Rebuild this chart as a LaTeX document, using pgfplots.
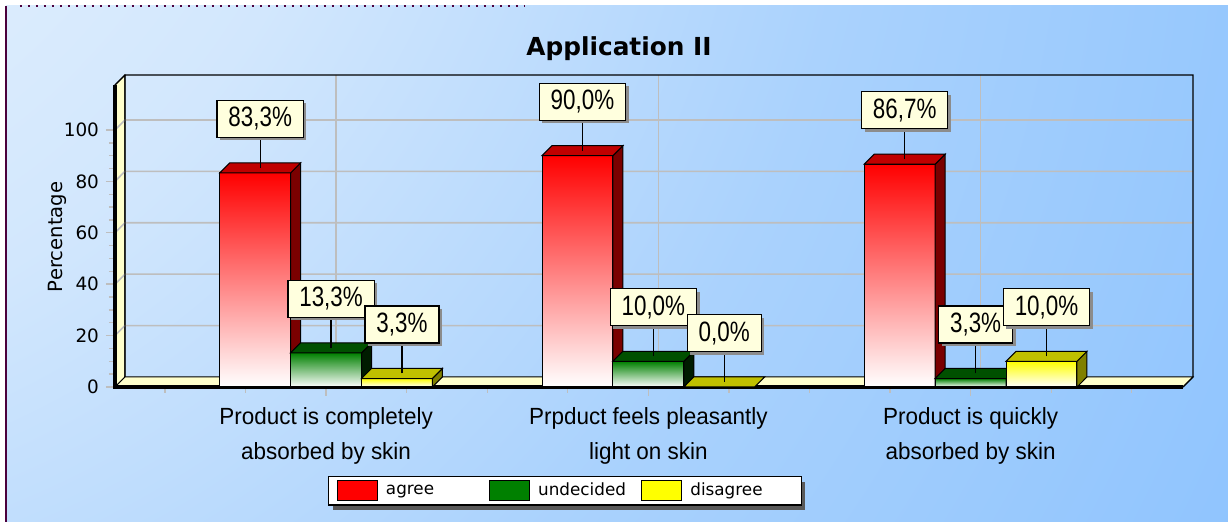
\documentclass[border=0pt]{standalone}
\usepackage{fontspec}
\usepackage{pgfplots}
\pgfplotsset{compat=1.18}
\usepackage{pgfplotstable}
\usetikzlibrary{shadows}
\setmainfont{DejaVu Sans}
\newfontfamily\dejavu{DejaVu Sans}
\newfontfamily\lblfont[FakeStretch=0.80]{Liberation Sans}
\newfontfamily\catfont[FakeStretch=0.96]{Liberation Sans}

\makeatletter
\tikzset{no preactions/.code={\let\tikz@preactions\pgfutil@empty}}
\makeatother

\definecolor{agreeF}{RGB}{255,0,0}
\definecolor{agreeT}{RGB}{192,0,0}
\definecolor{agreeS}{RGB}{122,0,0}
\definecolor{undF}{RGB}{0,128,0}
\definecolor{undT}{RGB}{0,80,0}
\definecolor{undS}{RGB}{0,28,0}
\definecolor{disF}{RGB}{255,255,0}
\definecolor{disT}{RGB}{192,192,0}
\definecolor{disS}{RGB}{128,128,0}
\definecolor{wallY}{RGB}{255,255,204}
\definecolor{labelC}{RGB}{255,255,222}
\definecolor{gridC}{RGB}{190,190,190}
\definecolor{framePurple}{RGB}{75,0,60}
\definecolor{bgA}{RGB}{210,231,253}
\definecolor{bgB}{RGB}{170,210,253}
\definecolor{bgC}{RGB}{132,190,254}
\definecolor{bgD}{RGB}{112,181,255}

\pgfdeclareradialshading{bgshade}{\pgfpoint{-50bp}{50bp}}{%
  color(0bp)=(white); color(30bp)=(bgA); color(45bp)=(bgB);
  color(68bp)=(bgC); color(90bp)=(bgD); color(150bp)=(bgD)}

\newcommand\tdbar[5]{%
  \pgfmathsetmacro\xa{#1}%
  \pgfmathsetmacro\xb{#1+0.22}%
  \pgfmathsetmacro\xc{#1+0.251}%
  \pgfmathsetmacro\xd{#1+0.031}%
  \pgfmathsetmacro\vb{#2+3.9}%
  \edef\temp{%
    \noexpand\addplot[forget plot, draw=black, line width=0.5pt, top color=#3, bottom color=white] coordinates {(\xa,0) (\xb,0) (\xb,#2) (\xa,#2)} -- cycle;
    \noexpand\addplot[forget plot, draw=black, line width=0.5pt, fill=#5] coordinates {(\xb,0) (\xc,3.9) (\xc,\vb) (\xb,#2)} -- cycle;
    \noexpand\addplot[forget plot, draw=black, line width=0.5pt, fill=#4] coordinates {(\xa,#2) (\xb,#2) (\xc,\vb) (\xd,\vb)} -- cycle;
  }\temp}

\pgfplotstableread{
x y label
-0.2045 104.3 83,3
0.0155 34.3 13,3
0.2355 24.3 3,3
0.7955 111.0 90,0
1.0155 31.0 10,0
1.2355 21.0 0,0
1.7955 107.7 86,7
2.0155 24.3 3,3
2.2355 31.0 10,0
}\labeltab

\begin{document}
\begin{tikzpicture}
\useasboundingbox (-57.5pt,-67.5pt) rectangle (556.5pt,193.5pt);
\fill[white] (-57.5pt,-67.5pt) rectangle (556.5pt,193.5pt);
\begin{scope}
\clip (-54.5pt,-67.5pt) rectangle (556.5pt,190.5pt);
\shade[shading=bgshade] (-57.5pt,-420.5pt) rectangle (556.5pt,193.5pt);
\end{scope}
\draw[framePurple, line width=0.8pt] (-54.5pt,-67.5pt) -- (-54.5pt,190.5pt);
\draw[framePurple, line width=0.8pt, dash pattern=on 0.8pt off 3.2pt] (-47.5pt,190.5pt) -- (205pt,190.5pt);

\begin{axis}[
  scale only axis, width=539pt, height=156pt,
  at={(0,0)}, anchor=south west,
  xmin=-0.655, xmax=2.69, ymin=0, ymax=121.4,
  clip=false,
  axis x line*=bottom, axis y line*=left,
  axis line style={draw=none},
  tick align=outside,
  major tick length=4.5pt, minor tick length=3pt,
  tick style={draw=gridC, line width=0.7pt},
  ytick={0,20,...,100}, minor y tick num=3,
  xtick={0,1,2},
  minor xtick={-0.5,-0.25,0.25,0.5,0.75,1.25,1.5,1.75,2.25,2.5},
  xticklabels={{Product is completely\\absorbed by skin},{Prpduct feels pleasantly\\light on skin},{Product is quickly\\absorbed by skin}},
  xticklabel style={align=center, yshift=-2pt, font=\catfont\fontsize{11.7}{17.5}\selectfont},
  yticklabel style={font=\dejavu\fontsize{9.2}{11}\selectfont},
  /pgf/number format/assume math mode=true,
  ylabel={Percentage},
  ylabel style={at={(-0.0538,0.481)}, anchor=center, font=\dejavu\fontsize{9.8}{12}\selectfont},
  title={Application II},
  title style={at={(0.4675,1.045)}, anchor=center, font=\dejavu\bfseries\fontsize{12.4}{14}\selectfont},
  legend columns=3,
  legend image code/.code={\draw[no preactions, #1, line width=0.6pt] (0pt,-5pt) rectangle (20pt,5pt);},
  legend style={at={(0.4175,-0.333)}, anchor=center, draw=black, line width=0.6pt, fill=white,
    inner xsep=4pt, inner ysep=1.75pt, nodes={inner sep=0pt}, /tikz/column sep=0pt,
    font=\dejavu\fontsize{8.4}{10}\selectfont,
    drop shadow={shadow xshift=2pt, shadow yshift=-2.5pt, opacity=1, fill=black!65}},
  legend cell align=left,
]
% walls
\addplot[forget plot, fill=wallY, draw=black, line width=0.5pt] coordinates {(-0.655,0) (-0.655,117.5) (-0.624,121.4) (-0.624,3.9)} -- cycle;
\addplot[forget plot, fill=wallY, draw=black, line width=0.5pt] coordinates {(-0.655,0) (2.659,0) (2.69,3.9) (-0.624,3.9)} -- cycle;
% grid
\addplot[forget plot, gridC, line width=0.8pt] coordinates {(-0.655,20) (-0.624,23.9) (2.69,23.9)};
\addplot[forget plot, gridC, line width=0.8pt] coordinates {(-0.655,40) (-0.624,43.9) (2.69,43.9)};
\addplot[forget plot, gridC, line width=0.8pt] coordinates {(-0.655,60) (-0.624,63.9) (2.69,63.9)};
\addplot[forget plot, gridC, line width=0.8pt] coordinates {(-0.655,80) (-0.624,83.9) (2.69,83.9)};
\addplot[forget plot, gridC, line width=0.8pt] coordinates {(-0.655,100) (-0.624,103.9) (2.69,103.9)};
\addplot[forget plot, gridC, line width=0.8pt] coordinates {(0.031,3.9) (0.031,121.4)};
\addplot[forget plot, gridC, line width=0.8pt] coordinates {(1.031,3.9) (1.031,121.4)};
\addplot[forget plot, gridC, line width=0.8pt] coordinates {(2.031,3.9) (2.031,121.4)};
% back wall outline and front edges
\addplot[forget plot, black, line width=0.6pt] coordinates {(-0.624,3.9) (-0.624,121.4) (2.69,121.4) (2.69,3.9) (2.659,0)};
\addplot[forget plot, black, line width=0.6pt] coordinates {(-0.655,117.5) (-0.624,121.4)};
\addplot[forget plot, black, line width=1.8pt] coordinates {(-0.655,117.5) (-0.655,0) (2.659,0)};
% bars
\tdbar{-0.33}{83.3}{agreeF}{agreeT}{agreeS}
\tdbar{-0.11}{13.3}{undF}{undT}{undS}
\tdbar{0.11}{3.3}{disF}{disT}{disS}
\tdbar{0.67}{90}{agreeF}{agreeT}{agreeS}
\tdbar{0.89}{10}{undF}{undT}{undS}
\addplot[forget plot, draw=black, line width=0.5pt, fill=disT] coordinates {(1.11,0) (1.33,0) (1.361,3.9) (1.141,3.9)} -- cycle;
\tdbar{1.67}{86.7}{agreeF}{agreeT}{agreeS}
\tdbar{1.89}{3.3}{undF}{undT}{undS}
\tdbar{2.11}{10}{disF}{disT}{disS}
% leader lines
\addplot[forget plot, black, line width=0.6pt] coordinates {(-0.2045,85.25) (-0.2045,104.3)};
\addplot[forget plot, black, line width=0.6pt] coordinates {(0.0155,15.25) (0.0155,34.3)};
\addplot[forget plot, black, line width=0.6pt] coordinates {(0.2355,5.25) (0.2355,24.3)};
\addplot[forget plot, black, line width=0.6pt] coordinates {(0.7955,91.95) (0.7955,111)};
\addplot[forget plot, black, line width=0.6pt] coordinates {(1.0155,11.95) (1.0155,31)};
\addplot[forget plot, black, line width=0.6pt] coordinates {(1.2355,1.95) (1.2355,21)};
\addplot[forget plot, black, line width=0.6pt] coordinates {(1.7955,88.65) (1.7955,107.7)};
\addplot[forget plot, black, line width=0.6pt] coordinates {(2.0155,5.25) (2.0155,24.3)};
\addplot[forget plot, black, line width=0.6pt] coordinates {(2.2355,11.95) (2.2355,31)};
% labels
\addplot[forget plot, draw=none, mark=none, point meta=explicit symbolic,
  nodes near coords={\pgfplotspointmeta\%},
  every node near coord/.append style={anchor=center, fill=labelC, draw=black, line width=0.6pt,
    inner xsep=5.7pt, inner ysep=0pt, minimum height=18.5pt,
    font=\lblfont\fontsize{14}{16}\selectfont,
    drop shadow={shadow xshift=1.5pt, shadow yshift=-1.5pt, opacity=1, fill=black!45}}]
  table[x=x, y=y, meta=label] {\labeltab};
% legend
\addlegendimage{fill=agreeF, draw=black}
\addlegendentry{\makebox[55.5pt][l]{\hspace{4pt}agree}}
\addlegendimage{fill=undF, draw=black}
\addlegendentry{\makebox[55.5pt][l]{\hspace{4pt}undecided}}
\addlegendimage{fill=disF, draw=black}
\addlegendentry{\makebox[55.5pt][l]{\hspace{4pt}disagree}}
\end{axis}
\end{tikzpicture}
\end{document}
